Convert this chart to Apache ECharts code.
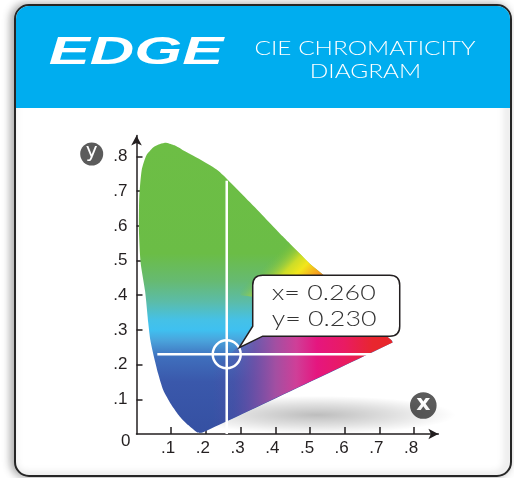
<!DOCTYPE html>
<html><head><meta charset="utf-8">
<script src="https://cdn.jsdelivr.net/npm/echarts@6/dist/echarts.min.js"></script>
<style>html,body{margin:0;padding:0;background:#fff}#c{width:514px;height:478px}</style>
</head><body><div id="c"></div>
<script>
// ---- data ----
const xTicks = [0.1, 0.2, 0.3, 0.4, 0.5, 0.6, 0.7, 0.8];
const xTickLabels = ['.1', '.2', '.3', '.4', '.5', '.6', '.7', '.8'];
const yTicks = [0.1, 0.2, 0.3, 0.4, 0.5, 0.6, 0.7, 0.8];
const yTickLabels = ['.1', '.2', '.3', '.4', '.5', '.6', '.7', '.8'];
const originLabel = '0';
// chromaticity gamut outline (x, y)
const gamutBoundary = [
  [0.176, 0.004], [0.150, 0.025], [0.125, 0.050], [0.100, 0.085], [0.077, 0.127], [0.062, 0.175],
  [0.050, 0.223], [0.040, 0.270], [0.034, 0.319], [0.025, 0.410], [0.012, 0.493],
  [0.007, 0.588], [0.008, 0.684], [0.015, 0.761], [0.029, 0.804], [0.048, 0.826],
  [0.068, 0.836], [0.087, 0.839], [0.110, 0.832], [0.134, 0.818], [0.180, 0.793],
  [0.231, 0.762], [0.260, 0.736], [0.327, 0.668], [0.422, 0.569], [0.500, 0.490],
  [0.537, 0.460], [0.735, 0.270], [0.738, 0.264], [0.190, 0.004]
];
// lower (purple/magenta/red) part of the gamut
const lowerRegion = [
  [0.176, 0.004], [0.190, 0.004], [0.738, 0.264], [0.735, 0.270], [0.700, 0.300],
  [0.350, 0.300], [0.300, 0.260], [0.220, 0.180], [0.100, 0.085], [0.125, 0.050], [0.150, 0.025]
];
// upper-right (yellow/orange) edge part of the gamut
const upperRegion = [
  [0.260, 0.736], [0.327, 0.668], [0.422, 0.569], [0.500, 0.490], [0.537, 0.460],
  [0.640, 0.360], [0.300, 0.400]
];
const point = [0.260, 0.230];
const crossV = [0, 0.73];
const crossH = [0.06, 0.70];
const brand = 'EDGE';
const titleLines = ['CIE CHROMATICITY', 'DIAGRAM'];
const axisBadges = ['y', 'x'];

// ---- chart ----
const chart = echarts.init(document.getElementById('c'), null, {renderer: 'canvas'});
const LG = echarts.graphic.LinearGradient;
const RG = echarts.graphic.RadialGradient;
const labelFont = 'Liberation Sans, Arial, sans-serif';
const ink = '#231f20';

function gamutRender(params, api) {
  const poly = a => a.map(p => api.coord(p));
  const top = api.coord([0, 0.84]), bot = api.coord([0, 0]);
  const ys = y => (0.84 - y) / 0.84;
  const fillA = new LG(top[0], top[1], bot[0], bot[1], [
    {offset: 0, color: '#6dbe45'},
    {offset: ys(0.52), color: '#6bbd46'},
    {offset: ys(0.44), color: '#66ba72'},
    {offset: ys(0.38), color: '#5bbca9'},
    {offset: ys(0.33), color: '#45c1e6'},
    {offset: ys(0.30), color: '#3fc0f0'},
    {offset: ys(0.27), color: '#4aa4dc'},
    {offset: ys(0.22), color: '#3f6ebc'},
    {offset: ys(0.15), color: '#3a58ab'},
    {offset: 1, color: '#3550a2'}
  ], true);
  const l = api.coord([0.22, 0]), r = api.coord([0.74, 0]);
  const xs = x => (x - 0.22) / 0.52;
  const fillB = new LG(l[0], 0, r[0], 0, [
    {offset: 0, color: 'rgba(95,75,165,0)'},
    {offset: xs(0.28), color: 'rgba(95,75,165,0.3)'},
    {offset: xs(0.34), color: 'rgba(115,78,165,0.85)'},
    {offset: xs(0.40), color: '#a24fa2'},
    {offset: xs(0.46), color: '#cf3f98'},
    {offset: xs(0.52), color: '#e5167f'},
    {offset: xs(0.60), color: '#e91b62'},
    {offset: xs(0.68), color: '#e8262f'},
    {offset: 1, color: '#e8262a'}
  ], true);
  const a = api.coord([0.3, 0.6]), b = api.coord([0.6, 0.3]);
  const ss = s => (s + 0.3) / 0.6;
  const fillC = new LG(a[0], a[1], b[0], b[1], [
    {offset: 0, color: 'rgba(107,189,69,0)'},
    {offset: ss(-0.12), color: 'rgba(107,189,69,0)'},
    {offset: ss(-0.04), color: 'rgba(215,224,35,0.9)'},
    {offset: ss(0.0), color: '#f2e61b'},
    {offset: ss(0.05), color: '#f6a81d'},
    {offset: ss(0.12), color: '#f05a24'},
    {offset: 1, color: '#e8262a'}
  ], true);
  const sc = api.coord([0.52, 0.055]);
  const rx = api.size([0.40, 0])[0], ry = api.size([0, 0.055])[1];
  return {
    type: 'group',
    children: [
      {type: 'circle', x: sc[0], y: sc[1], scaleY: ry / rx, shape: {cx: 0, cy: 0, r: rx},
       style: {fill: new RG(0.5, 0.5, 0.5, [
         {offset: 0, color: 'rgba(0,0,0,0.26)'},
         {offset: 0.55, color: 'rgba(0,0,0,0.12)'},
         {offset: 1, color: 'rgba(0,0,0,0)'}])}},
      {type: 'polygon', shape: {points: poly(gamutBoundary), smooth: 0.2}, style: {fill: fillA}},
      {type: 'polygon', shape: {points: poly(lowerRegion)}, style: {fill: fillB}},
      {type: 'polygon', shape: {points: poly(upperRegion)}, style: {fill: fillC}}
    ]
  };
}

function markRender(params, api) {
  const x = api.value(0), y = api.value(1);
  const c = api.coord([x, y]);
  const v0 = api.coord([x, crossV[0]]), v1 = api.coord([x, crossV[1]]);
  const h0 = api.coord([crossH[0], y]), h1 = api.coord([crossH[1], y]);
  const L = c[0] + 26, R = c[0] + 173, T = c[1] - 79, B = c[1] - 18, rr = 10;
  const tip = [c[0] + 12.5, c[1] - 6.5];
  const path = `M${L + rr} ${T} L${R - rr} ${T} Q${R} ${T} ${R} ${T + rr} L${R} ${B - rr} Q${R} ${B} ${R - rr} ${B} ` +
    `L${L + 10} ${B} L${tip[0]} ${tip[1]} L${L} ${B - 10} L${L} ${T + rr} Q${L} ${T} ${L + rr} ${T} Z`;
  const o = api.coord([0, 0]);
  return {
    type: 'group',
    children: [
      {type: 'line', shape: {x1: v0[0], y1: v0[1], x2: v1[0], y2: v1[1]}, style: {stroke: '#fff', lineWidth: 2.5}},
      {type: 'line', shape: {x1: h0[0], y1: h0[1], x2: h1[0], y2: h1[1]}, style: {stroke: '#fff', lineWidth: 2.5}},
      {type: 'circle', shape: {cx: c[0], cy: c[1], r: 14}, style: {fill: 'none', stroke: '#fff', lineWidth: 2.5}},
      {type: 'path', shape: {pathData: path}, style: {fill: '#fff', stroke: ink, lineWidth: 1.5}},
      {type: 'text', x: c[0] + 45, y: c[1] - 61, scaleX: 1.22,
       style: {text: 'x= ' + x.toFixed(3), fill: '#333', font: '300 22px Lato, sans-serif', verticalAlign: 'middle', align: 'left'}},
      {type: 'text', x: c[0] + 45, y: c[1] - 35, scaleX: 1.22,
       style: {text: 'y= ' + y.toFixed(3), fill: '#333', font: '300 22px Lato, sans-serif', verticalAlign: 'middle', align: 'left'}},
      {type: 'text', x: o[0] - 6, y: o[1] + 7,
       style: {text: originLabel, fill: ink, font: '17px ' + labelFont, verticalAlign: 'middle', align: 'right'}}
    ]
  };
}

const axisLineStyle = {color: ink, width: 1.5};
const option = {
  animation: false,
  backgroundColor: '#ffffff',
  grid: {left: 136.5, right: 75.6, top: 135.6, bottom: 44, containLabel: false},
  xAxis: {
    type: 'value', min: 0, max: 0.87, interval: 0.1,
    splitLine: {show: false},
    axisLine: {show: true, symbol: ['none', 'arrow'], symbolSize: [8, 10], lineStyle: axisLineStyle},
    axisTick: {show: true, inside: true, length: 7, customValues: xTicks, lineStyle: axisLineStyle},
    axisLabel: {customValues: xTicks, margin: 6, color: ink, fontSize: 17, fontFamily: labelFont,
      padding: [0, 6, 0, 0],
      formatter: v => xTickLabels[xTicks.findIndex(t => Math.abs(t - v) < 1e-6)] || ''}
  },
  yAxis: {
    type: 'value', min: 0, max: 0.86, interval: 0.1,
    splitLine: {show: false},
    axisLine: {show: true, symbol: ['none', 'arrow'], symbolSize: [8, 10], lineStyle: axisLineStyle},
    axisTick: {show: true, inside: true, length: 6, customValues: yTicks, lineStyle: axisLineStyle},
    axisLabel: {customValues: yTicks, margin: 9, color: ink, fontSize: 17, fontFamily: labelFont,
      padding: [5, 0, 0, 0],
      formatter: v => yTickLabels[yTicks.findIndex(t => Math.abs(t - v) < 1e-6)] || ''}
  },
  graphic: [
    {type: 'rect', z: -10, shape: {x: 15, y: 5, width: 496, height: 471, r: 14},
     style: {fill: '#fff', stroke: '#262626', lineWidth: 2, shadowBlur: 8, shadowOffsetX: -3, shadowColor: 'rgba(0,0,0,0.35)'}},
    {type: 'rect', z: -9, shape: {x: 16, y: 6, width: 494, height: 102, r: [13, 13, 0, 0]}, style: {fill: '#00adef'}},
    {type: 'text', z: -8, x: 136, y: 54, scaleX: 1.62,
     style: {text: brand, fill: '#fff', font: 'italic 900 38px "Liberation Sans", Arial, sans-serif', align: 'center', verticalAlign: 'middle'}},
    {type: 'text', z: -8, x: 365, y: 49, scaleX: 1.22,
     style: {text: titleLines[0], fill: '#fff', font: '300 20px Lato, sans-serif', align: 'center', verticalAlign: 'middle'}},
    {type: 'text', z: -8, x: 365.5, y: 72, scaleX: 1.22,
     style: {text: titleLines[1], fill: '#fff', font: '300 20px Lato, sans-serif', align: 'center', verticalAlign: 'middle'}},
    {type: 'circle', shape: {cx: 91.7, cy: 154, r: 11.5}, style: {fill: '#5b5b5b'}},
    {type: 'text', x: 91.7, y: 152, style: {text: axisBadges[0], fill: '#fff', font: '20px "DejaVu Sans", sans-serif', align: 'center', verticalAlign: 'middle'}},
    {type: 'circle', shape: {cx: 423.3, cy: 405.5, r: 13.3}, style: {fill: '#5b5b5b'}},
    {type: 'text', x: 423.3, y: 404, style: {text: axisBadges[1], fill: '#fff', font: 'bold 22px "DejaVu Sans", sans-serif', align: 'center', verticalAlign: 'middle'}}
  ],
  series: [
    {type: 'custom', name: 'gamut', coordinateSystem: 'cartesian2d', data: [[0, 0]], renderItem: gamutRender, silent: true, z: 1},
    {type: 'custom', name: 'point', coordinateSystem: 'cartesian2d', data: [point], renderItem: markRender, silent: true, z: 3}
  ]
};
chart.setOption(option);
</script>
</body></html>
